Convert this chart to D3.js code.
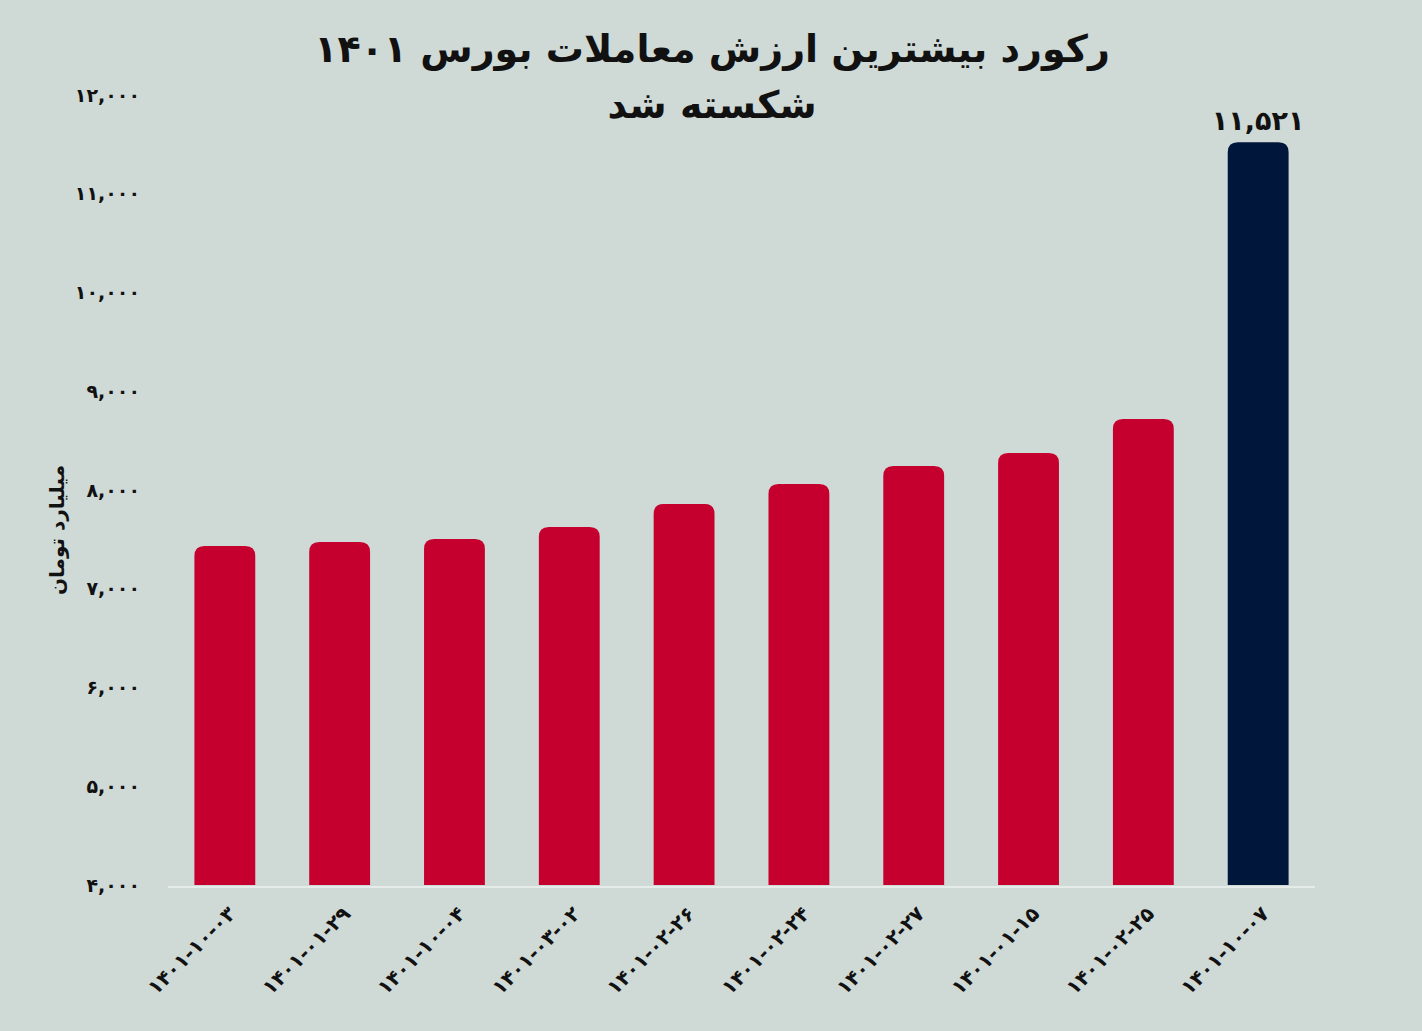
<!DOCTYPE html>
<html><head><meta charset="utf-8">
<script src="https://cdn.jsdelivr.net/npm/d3@7"></script>
<style>body{margin:0;background:#cfd9d6}text{font-family:"DejaVu Sans","Noto Sans",sans-serif}</style>
</head><body>
<svg width="1422" height="1031"></svg>
<script>
// data
const categories = ["1401-10-03","1401-01-29","1401-10-04","1401-03-02","1401-02-26","1401-02-24","1401-02-27","1401-01-15","1401-02-25","1401-10-07"];
const values = [7433, 7473, 7504, 7625, 7858, 8061, 8243, 8375, 8719, 11521];
const yTicks = [4000,5000,6000,7000,8000,9000,10000,11000,12000];

const fa = s => String(s).replace(/\d/g, d => "۰۱۲۳۴۵۶۷۸۹"[d]);

let svg = d3.select("svg"),
    margin = { top: 95, right: 107, bottom: 146, left: 168 },
    width = 1422 - margin.left - margin.right,
    height = 1031 - margin.top - margin.bottom,
    g = svg.append("g").attr("transform", "translate(" + margin.left + "," + margin.top + ")");

svg.append("rect").attr("width", 1422).attr("height", 1031).attr("fill", "#cfd9d6").lower();

let x = d3.scaleBand().domain(categories).range([0, width]).paddingInner(0.47).paddingOuter(0.23);
let y = d3.scaleLinear().domain([4000, 12000]).range([height, 0]);

// bars with rounded tops
g.selectAll("path.bar").data(values).enter().append("path")
    .attr("fill", (d, i) => i === values.length - 1 ? "#00163b" : "#c6002e")
    .attr("d", (d, i) => {
        let x0 = x(categories[i]), w = x.bandwidth(), t = y(d), b = y(4000), r = 10;
        return `M${x0},${b}V${t + r}Q${x0},${t} ${x0 + r},${t}H${x0 + w - r}Q${x0 + w},${t} ${x0 + w},${t + r}V${b}Z`;
    });

g.append("line").attr("x1", 0).attr("x2", width).attr("y1", height + 2).attr("y2", height + 2)
    .attr("stroke", "#e6ecea").attr("stroke-width", 2);

// y axis labels
g.selectAll("text.yt").data(yTicks).enter().append("text")
    .attr("x", -28).attr("y", d => y(d)).attr("dy", "0.35em")
    .attr("text-anchor", "end").attr("font-size", 19).attr("font-weight", "bold").attr("fill", "#111")
    .text(d => fa(d3.format(",")(d)));

// x labels
g.selectAll("text.xt").data(categories).enter().append("text")
    .attr("transform", d => "translate(" + (x(d) + x.bandwidth() / 2 + 12) + "," + (height + 30) + ") rotate(-45)")
    .attr("text-anchor", "end").attr("font-size", 20).attr("font-weight", "bold").attr("fill", "#111")
    .attr("direction", "ltr")
    .text(d => fa(d));

// value label on last bar
let last = categories.length - 1;
g.append("text").attr("x", x(categories[last]) + x.bandwidth() / 2).attr("y", y(values[last]) - 12)
    .attr("text-anchor", "middle").attr("font-size", 27).attr("font-weight", "bold").attr("fill", "#111")
    .text(fa(d3.format(",")(values[last])));

// y title
svg.append("text").attr("transform", "translate(64,530) rotate(-90)")
    .attr("text-anchor", "middle").attr("font-size", 20).attr("font-weight", "bold").attr("fill", "#111")
    .text("میلیارد تومان");

// title
svg.append("text").attr("x", 712).attr("y", 62).attr("text-anchor", "middle")
    .attr("font-size", 38).attr("font-weight", "bold").attr("fill", "#111")
    .text("رکورد بیشترین ارزش معاملات بورس ۱۴۰۱");
svg.append("text").attr("x", 712).attr("y", 118).attr("text-anchor", "middle")
    .attr("font-size", 38).attr("font-weight", "bold").attr("fill", "#111")
    .text("شکسته شد");
</script>
</body></html>
